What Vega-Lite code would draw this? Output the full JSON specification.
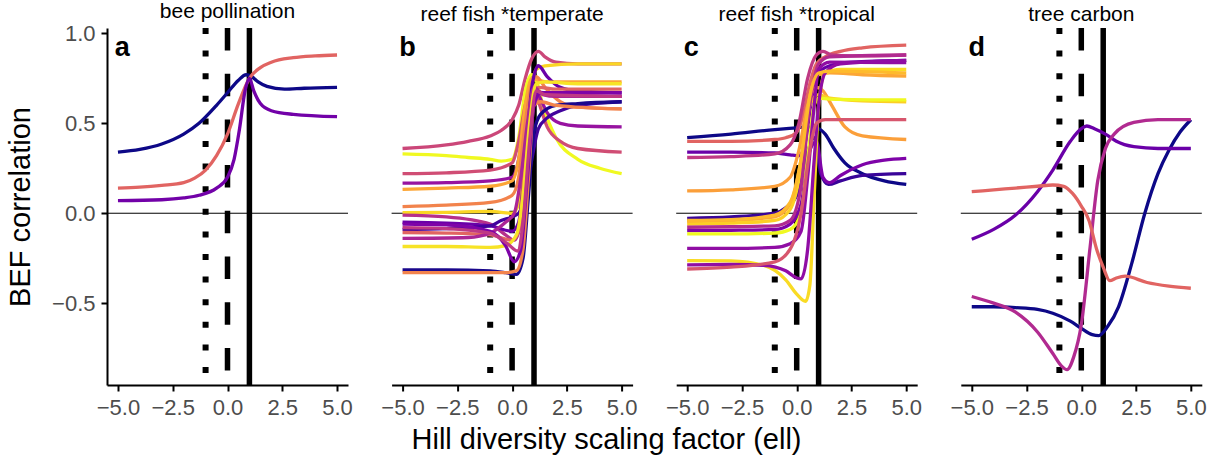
{
"$schema": "https://vega.github.io/schema/vega-lite/v6.json",
"padding": {"left": 6, "top": 0, "right": 5, "bottom": 5},
"background": "white",
"config": {
 "view": {"stroke": null},
 "axis": {"domainColor": "black", "domainWidth": 2, "tickColor": "black", "tickWidth": 2, "tickSize": 6, "labelColor": "#4D4D4D", "labelFont": "Liberation Sans", "labelFontSize": 22, "labelPadding": 6, "grid": false, "titleFont": "Liberation Sans", "titleFontWeight": "normal", "titleColor": "black", "titleFontSize": 29}
},
"title": {"text": "Hill diversity scaling factor (ell)", "orient": "bottom", "anchor": "middle", "fontSize": 29, "fontWeight": "normal", "font": "Liberation Sans", "color": "black", "offset": 8},
"spacing": 27.6,
"datasets": {
"curves": [
{"p":"a","s":"a1","c":0,"x":-5,"y":0.34},{"p":"a","s":"a1","c":0,"x":-4,"y":0.355},{"p":"a","s":"a1","c":0,"x":-3,"y":0.385},{"p":"a","s":"a1","c":0,"x":-2,"y":0.44},{"p":"a","s":"a1","c":0,"x":-1.3,"y":0.5},{"p":"a","s":"a1","c":0,"x":-0.5,"y":0.6},{"p":"a","s":"a1","c":0,"x":0,"y":0.67},{"p":"a","s":"a1","c":0,"x":0.5,"y":0.74},{"p":"a","s":"a1","c":0,"x":0.85,"y":0.77},{"p":"a","s":"a1","c":0,"x":1.1,"y":0.76},{"p":"a","s":"a1","c":0,"x":1.4,"y":0.73},{"p":"a","s":"a1","c":0,"x":1.8,"y":0.705},{"p":"a","s":"a1","c":0,"x":2.6,"y":0.69},{"p":"a","s":"a1","c":0,"x":3.5,"y":0.695},{"p":"a","s":"a1","c":0,"x":5,"y":0.7},
{"p":"a","s":"a2","c":0.6,"x":-5,"y":0.14},{"p":"a","s":"a2","c":0.6,"x":-4,"y":0.145},{"p":"a","s":"a2","c":0.6,"x":-3,"y":0.155},{"p":"a","s":"a2","c":0.6,"x":-2,"y":0.17},{"p":"a","s":"a2","c":0.6,"x":-1.5,"y":0.195},{"p":"a","s":"a2","c":0.6,"x":-1,"y":0.24},{"p":"a","s":"a2","c":0.6,"x":-0.5,"y":0.32},{"p":"a","s":"a2","c":0.6,"x":0,"y":0.44},{"p":"a","s":"a2","c":0.6,"x":0.5,"y":0.61},{"p":"a","s":"a2","c":0.6,"x":1,"y":0.75},{"p":"a","s":"a2","c":0.6,"x":1.5,"y":0.81},{"p":"a","s":"a2","c":0.6,"x":2,"y":0.84},{"p":"a","s":"a2","c":0.6,"x":3,"y":0.865},{"p":"a","s":"a2","c":0.6,"x":4,"y":0.875},{"p":"a","s":"a2","c":0.6,"x":5,"y":0.88},
{"p":"a","s":"a3","c":0.22,"x":-5,"y":0.07},{"p":"a","s":"a3","c":0.22,"x":-3,"y":0.075},{"p":"a","s":"a3","c":0.22,"x":-2,"y":0.085},{"p":"a","s":"a3","c":0.22,"x":-1.3,"y":0.1},{"p":"a","s":"a3","c":0.22,"x":-0.5,"y":0.14},{"p":"a","s":"a3","c":0.22,"x":0,"y":0.2},{"p":"a","s":"a3","c":0.22,"x":0.3,"y":0.3},{"p":"a","s":"a3","c":0.22,"x":0.55,"y":0.47},{"p":"a","s":"a3","c":0.22,"x":0.8,"y":0.68},{"p":"a","s":"a3","c":0.22,"x":1,"y":0.75},{"p":"a","s":"a3","c":0.22,"x":1.2,"y":0.68},{"p":"a","s":"a3","c":0.22,"x":1.5,"y":0.61},{"p":"a","s":"a3","c":0.22,"x":2,"y":0.57},{"p":"a","s":"a3","c":0.22,"x":3,"y":0.55},{"p":"a","s":"a3","c":0.22,"x":5,"y":0.537},

{"p":"b","s":"b1","c":0.5,"x":-5,"y":0.36},{"p":"b","s":"b1","c":0.5,"x":-3,"y":0.38},{"p":"b","s":"b1","c":0.5,"x":-2,"y":0.4},{"p":"b","s":"b1","c":0.5,"x":-1,"y":0.43},{"p":"b","s":"b1","c":0.5,"x":-0.5,"y":0.46},{"p":"b","s":"b1","c":0.5,"x":0,"y":0.52},{"p":"b","s":"b1","c":0.5,"x":0.3,"y":0.6},{"p":"b","s":"b1","c":0.5,"x":0.6,"y":0.75},{"p":"b","s":"b1","c":0.5,"x":0.9,"y":0.86},{"p":"b","s":"b1","c":0.5,"x":1.2,"y":0.9},{"p":"b","s":"b1","c":0.5,"x":1.5,"y":0.87},{"p":"b","s":"b1","c":0.5,"x":2,"y":0.84},{"p":"b","s":"b1","c":0.5,"x":3,"y":0.83},{"p":"b","s":"b1","c":0.5,"x":5,"y":0.83},
{"p":"b","s":"b2","c":1,"x":-5,"y":0.33},{"p":"b","s":"b2","c":1,"x":-3,"y":0.32},{"p":"b","s":"b2","c":1,"x":-2,"y":0.31},{"p":"b","s":"b2","c":1,"x":-1,"y":0.3},{"p":"b","s":"b2","c":1,"x":-0.5,"y":0.29},{"p":"b","s":"b2","c":1,"x":0,"y":0.3},{"p":"b","s":"b2","c":1,"x":0.3,"y":0.42},{"p":"b","s":"b2","c":1,"x":0.6,"y":0.68},{"p":"b","s":"b2","c":1,"x":0.9,"y":0.77},{"p":"b","s":"b2","c":1,"x":1.1,"y":0.74},{"p":"b","s":"b2","c":1,"x":1.4,"y":0.6},{"p":"b","s":"b2","c":1,"x":2,"y":0.42},{"p":"b","s":"b2","c":1,"x":3,"y":0.3},{"p":"b","s":"b2","c":1,"x":4,"y":0.25},{"p":"b","s":"b2","c":1,"x":5,"y":0.22},
{"p":"b","s":"b3","c":0.52,"x":-5,"y":0.22},{"p":"b","s":"b3","c":0.52,"x":-3,"y":0.225},{"p":"b","s":"b3","c":0.52,"x":-1,"y":0.24},{"p":"b","s":"b3","c":0.52,"x":0,"y":0.28},{"p":"b","s":"b3","c":0.52,"x":0.3,"y":0.4},{"p":"b","s":"b3","c":0.52,"x":0.6,"y":0.6},{"p":"b","s":"b3","c":0.52,"x":0.9,"y":0.7},{"p":"b","s":"b3","c":0.52,"x":1.2,"y":0.62},{"p":"b","s":"b3","c":0.52,"x":1.6,"y":0.48},{"p":"b","s":"b3","c":0.52,"x":2.2,"y":0.4},{"p":"b","s":"b3","c":0.52,"x":3,"y":0.36},{"p":"b","s":"b3","c":0.52,"x":5,"y":0.34},
{"p":"b","s":"b4","c":0.32,"x":-5,"y":0.167},{"p":"b","s":"b4","c":0.32,"x":-3,"y":0.17},{"p":"b","s":"b4","c":0.32,"x":-1,"y":0.18},{"p":"b","s":"b4","c":0.32,"x":0,"y":0.2},{"p":"b","s":"b4","c":0.32,"x":0.3,"y":0.3},{"p":"b","s":"b4","c":0.32,"x":0.6,"y":0.55},{"p":"b","s":"b4","c":0.32,"x":0.9,"y":0.72},{"p":"b","s":"b4","c":0.32,"x":1.2,"y":0.66},{"p":"b","s":"b4","c":0.32,"x":1.6,"y":0.56},{"p":"b","s":"b4","c":0.32,"x":2.2,"y":0.5},{"p":"b","s":"b4","c":0.32,"x":3,"y":0.485},{"p":"b","s":"b4","c":0.32,"x":5,"y":0.48},
{"p":"b","s":"b5","c":0.8,"x":-5,"y":0.133},{"p":"b","s":"b5","c":0.8,"x":-3,"y":0.14},{"p":"b","s":"b5","c":0.8,"x":-1,"y":0.15},{"p":"b","s":"b5","c":0.8,"x":0,"y":0.18},{"p":"b","s":"b5","c":0.8,"x":0.3,"y":0.3},{"p":"b","s":"b5","c":0.8,"x":0.6,"y":0.6},{"p":"b","s":"b5","c":0.8,"x":0.9,"y":0.75},{"p":"b","s":"b5","c":0.8,"x":1.2,"y":0.74},{"p":"b","s":"b5","c":0.8,"x":1.6,"y":0.73},{"p":"b","s":"b5","c":0.8,"x":3,"y":0.73},{"p":"b","s":"b5","c":0.8,"x":5,"y":0.73},
{"p":"b","s":"b6","c":0.7,"x":-5,"y":0.037},{"p":"b","s":"b6","c":0.7,"x":-3,"y":0.045},{"p":"b","s":"b6","c":0.7,"x":-1,"y":0.06},{"p":"b","s":"b6","c":0.7,"x":0,"y":0.1},{"p":"b","s":"b6","c":0.7,"x":0.3,"y":0.2},{"p":"b","s":"b6","c":0.7,"x":0.6,"y":0.5},{"p":"b","s":"b6","c":0.7,"x":0.9,"y":0.72},{"p":"b","s":"b6","c":0.7,"x":1.1,"y":0.76},{"p":"b","s":"b6","c":0.7,"x":1.5,"y":0.7},{"p":"b","s":"b6","c":0.7,"x":2.2,"y":0.62},{"p":"b","s":"b6","c":0.7,"x":3,"y":0.59},{"p":"b","s":"b6","c":0.7,"x":5,"y":0.58},
{"p":"b","s":"b7","c":0.92,"x":-5,"y":0.003},{"p":"b","s":"b7","c":0.92,"x":-3,"y":0.005},{"p":"b","s":"b7","c":0.92,"x":-1,"y":0.01},{"p":"b","s":"b7","c":0.92,"x":0,"y":0},{"p":"b","s":"b7","c":0.92,"x":0.3,"y":0.05},{"p":"b","s":"b7","c":0.92,"x":0.6,"y":0.35},{"p":"b","s":"b7","c":0.92,"x":0.9,"y":0.7},{"p":"b","s":"b7","c":0.92,"x":1.1,"y":0.8},{"p":"b","s":"b7","c":0.92,"x":1.5,"y":0.82},{"p":"b","s":"b7","c":0.92,"x":3,"y":0.83},{"p":"b","s":"b7","c":0.92,"x":5,"y":0.83},
{"p":"b","s":"b8","c":0.42,"x":-5,"y":-0.01},{"p":"b","s":"b8","c":0.42,"x":-3,"y":-0.02},{"p":"b","s":"b8","c":0.42,"x":-1,"y":-0.06},{"p":"b","s":"b8","c":0.42,"x":-0.3,"y":-0.12},{"p":"b","s":"b8","c":0.42,"x":0.1,"y":-0.15},{"p":"b","s":"b8","c":0.42,"x":0.4,"y":-0.05},{"p":"b","s":"b8","c":0.42,"x":0.7,"y":0.4},{"p":"b","s":"b8","c":0.42,"x":1,"y":0.68},{"p":"b","s":"b8","c":0.42,"x":1.4,"y":0.67},{"p":"b","s":"b8","c":0.42,"x":2,"y":0.66},{"p":"b","s":"b8","c":0.42,"x":5,"y":0.65},
{"p":"b","s":"b9","c":0.2,"x":-5,"y":-0.05},{"p":"b","s":"b9","c":0.2,"x":-3,"y":-0.055},{"p":"b","s":"b9","c":0.2,"x":-1,"y":-0.07},{"p":"b","s":"b9","c":0.2,"x":0,"y":-0.1},{"p":"b","s":"b9","c":0.2,"x":0.3,"y":-0.05},{"p":"b","s":"b9","c":0.2,"x":0.6,"y":0.3},{"p":"b","s":"b9","c":0.2,"x":0.9,"y":0.7},{"p":"b","s":"b9","c":0.2,"x":1.2,"y":0.82},{"p":"b","s":"b9","c":0.2,"x":1.6,"y":0.76},{"p":"b","s":"b9","c":0.2,"x":2.2,"y":0.7},{"p":"b","s":"b9","c":0.2,"x":3,"y":0.68},{"p":"b","s":"b9","c":0.2,"x":5,"y":0.67},
{"p":"b","s":"b10","c":0.1,"x":-5,"y":-0.09},{"p":"b","s":"b10","c":0.1,"x":-3,"y":-0.085},{"p":"b","s":"b10","c":0.1,"x":-1,"y":-0.07},{"p":"b","s":"b10","c":0.1,"x":-0.5,"y":-0.04},{"p":"b","s":"b10","c":0.1,"x":0,"y":-0.02},{"p":"b","s":"b10","c":0.1,"x":0.3,"y":0},{"p":"b","s":"b10","c":0.1,"x":0.6,"y":0.1},{"p":"b","s":"b10","c":0.1,"x":0.9,"y":0.3},{"p":"b","s":"b10","c":0.1,"x":1.2,"y":0.47},{"p":"b","s":"b10","c":0.1,"x":1.6,"y":0.53},{"p":"b","s":"b10","c":0.1,"x":2.2,"y":0.57},{"p":"b","s":"b10","c":0.1,"x":3,"y":0.6},{"p":"b","s":"b10","c":0.1,"x":5,"y":0.62},
{"p":"b","s":"b11","c":0.6,"x":-5,"y":-0.107},{"p":"b","s":"b11","c":0.6,"x":-3,"y":-0.11},{"p":"b","s":"b11","c":0.6,"x":-1,"y":-0.12},{"p":"b","s":"b11","c":0.6,"x":0,"y":-0.15},{"p":"b","s":"b11","c":0.6,"x":0.3,"y":-0.1},{"p":"b","s":"b11","c":0.6,"x":0.6,"y":0.3},{"p":"b","s":"b11","c":0.6,"x":0.9,"y":0.65},{"p":"b","s":"b11","c":0.6,"x":1.2,"y":0.7},{"p":"b","s":"b11","c":0.6,"x":2,"y":0.69},{"p":"b","s":"b11","c":0.6,"x":5,"y":0.69},
{"p":"b","s":"b12","c":0.38,"x":-5,"y":-0.14},{"p":"b","s":"b12","c":0.38,"x":-2,"y":-0.135},{"p":"b","s":"b12","c":0.38,"x":-1,"y":-0.11},{"p":"b","s":"b12","c":0.38,"x":-0.3,"y":-0.05},{"p":"b","s":"b12","c":0.38,"x":0.1,"y":0},{"p":"b","s":"b12","c":0.38,"x":0.4,"y":0.2},{"p":"b","s":"b12","c":0.38,"x":0.7,"y":0.5},{"p":"b","s":"b12","c":0.38,"x":1,"y":0.7},{"p":"b","s":"b12","c":0.38,"x":1.4,"y":0.66},{"p":"b","s":"b12","c":0.38,"x":2,"y":0.65},{"p":"b","s":"b12","c":0.38,"x":5,"y":0.65},
{"p":"b","s":"b13","c":0.95,"x":-5,"y":-0.185},{"p":"b","s":"b13","c":0.95,"x":-3,"y":-0.185},{"p":"b","s":"b13","c":0.95,"x":-1,"y":-0.19},{"p":"b","s":"b13","c":0.95,"x":-0.3,"y":-0.18},{"p":"b","s":"b13","c":0.95,"x":0.2,"y":-0.12},{"p":"b","s":"b13","c":0.95,"x":0.5,"y":0.1},{"p":"b","s":"b13","c":0.95,"x":0.8,"y":0.5},{"p":"b","s":"b13","c":0.95,"x":1.1,"y":0.72},{"p":"b","s":"b13","c":0.95,"x":1.5,"y":0.73},{"p":"b","s":"b13","c":0.95,"x":3,"y":0.72},{"p":"b","s":"b13","c":0.95,"x":5,"y":0.72},
{"p":"b","s":"b14","c":0.02,"x":-5,"y":-0.315},{"p":"b","s":"b14","c":0.02,"x":-3,"y":-0.315},{"p":"b","s":"b14","c":0.02,"x":-1,"y":-0.32},{"p":"b","s":"b14","c":0.02,"x":-0.3,"y":-0.33},{"p":"b","s":"b14","c":0.02,"x":0.2,"y":-0.34},{"p":"b","s":"b14","c":0.02,"x":0.5,"y":-0.25},{"p":"b","s":"b14","c":0.02,"x":0.75,"y":0.1},{"p":"b","s":"b14","c":0.02,"x":1,"y":0.45},{"p":"b","s":"b14","c":0.02,"x":1.3,"y":0.55},{"p":"b","s":"b14","c":0.02,"x":2,"y":0.6},{"p":"b","s":"b14","c":0.02,"x":3,"y":0.61},{"p":"b","s":"b14","c":0.02,"x":5,"y":0.62},
{"p":"b","s":"b15","c":0.7,"x":-5,"y":-0.33},{"p":"b","s":"b15","c":0.7,"x":-3,"y":-0.33},{"p":"b","s":"b15","c":0.7,"x":-1,"y":-0.33},{"p":"b","s":"b15","c":0.7,"x":-0.3,"y":-0.33},{"p":"b","s":"b15","c":0.7,"x":0.2,"y":-0.32},{"p":"b","s":"b15","c":0.7,"x":0.5,"y":-0.2},{"p":"b","s":"b15","c":0.7,"x":0.75,"y":0.2},{"p":"b","s":"b15","c":0.7,"x":1,"y":0.6},{"p":"b","s":"b15","c":0.7,"x":1.3,"y":0.62},{"p":"b","s":"b15","c":0.7,"x":2,"y":0.6},{"p":"b","s":"b15","c":0.7,"x":5,"y":0.58},
{"p":"b","s":"b16","c":0.25,"x":-5,"y":-0.06},{"p":"b","s":"b16","c":0.25,"x":-3,"y":-0.065},{"p":"b","s":"b16","c":0.25,"x":-1,"y":-0.1},{"p":"b","s":"b16","c":0.25,"x":-0.3,"y":-0.18},{"p":"b","s":"b16","c":0.25,"x":0.1,"y":-0.27},{"p":"b","s":"b16","c":0.25,"x":0.4,"y":-0.2},{"p":"b","s":"b16","c":0.25,"x":0.7,"y":0.2},{"p":"b","s":"b16","c":0.25,"x":1,"y":0.6},{"p":"b","s":"b16","c":0.25,"x":1.3,"y":0.67},{"p":"b","s":"b16","c":0.25,"x":2,"y":0.67},{"p":"b","s":"b16","c":0.25,"x":5,"y":0.67},
{"p":"b","s":"b17","c":0.45,"x":-5,"y":-0.08},{"p":"b","s":"b17","c":0.45,"x":-3,"y":-0.085},{"p":"b","s":"b17","c":0.45,"x":-1,"y":-0.11},{"p":"b","s":"b17","c":0.45,"x":-0.2,"y":-0.17},{"p":"b","s":"b17","c":0.45,"x":0.25,"y":-0.21},{"p":"b","s":"b17","c":0.45,"x":0.5,"y":-0.05},{"p":"b","s":"b17","c":0.45,"x":0.8,"y":0.4},{"p":"b","s":"b17","c":0.45,"x":1.1,"y":0.68},{"p":"b","s":"b17","c":0.45,"x":1.5,"y":0.66},{"p":"b","s":"b17","c":0.45,"x":5,"y":0.65},

{"p":"c","s":"c1","c":0,"x":-5,"y":0.42},{"p":"c","s":"c1","c":0,"x":-3,"y":0.44},{"p":"c","s":"c1","c":0,"x":-1,"y":0.465},{"p":"c","s":"c1","c":0,"x":0,"y":0.475},{"p":"c","s":"c1","c":0,"x":0.5,"y":0.48},{"p":"c","s":"c1","c":0,"x":1,"y":0.47},{"p":"c","s":"c1","c":0,"x":1.3,"y":0.44},{"p":"c","s":"c1","c":0,"x":1.7,"y":0.36},{"p":"c","s":"c1","c":0,"x":2.2,"y":0.28},{"p":"c","s":"c1","c":0,"x":3,"y":0.22},{"p":"c","s":"c1","c":0,"x":4,"y":0.18},{"p":"c","s":"c1","c":0,"x":5,"y":0.16},
{"p":"c","s":"c2","c":0.6,"x":-5,"y":0.4},{"p":"c","s":"c2","c":0.6,"x":-3,"y":0.4},{"p":"c","s":"c2","c":0.6,"x":-1,"y":0.41},{"p":"c","s":"c2","c":0.6,"x":-0.5,"y":0.42},{"p":"c","s":"c2","c":0.6,"x":0,"y":0.45},{"p":"c","s":"c2","c":0.6,"x":0.3,"y":0.55},{"p":"c","s":"c2","c":0.6,"x":0.6,"y":0.72},{"p":"c","s":"c2","c":0.6,"x":0.9,"y":0.83},{"p":"c","s":"c2","c":0.6,"x":1.3,"y":0.87},{"p":"c","s":"c2","c":0.6,"x":2,"y":0.9},{"p":"c","s":"c2","c":0.6,"x":3,"y":0.92},{"p":"c","s":"c2","c":0.6,"x":5,"y":0.935},
{"p":"c","s":"c3","c":0.2,"x":-5,"y":0.34},{"p":"c","s":"c3","c":0.2,"x":-3,"y":0.34},{"p":"c","s":"c3","c":0.2,"x":-1,"y":0.335},{"p":"c","s":"c3","c":0.2,"x":-0.3,"y":0.325},{"p":"c","s":"c3","c":0.2,"x":0.1,"y":0.32},{"p":"c","s":"c3","c":0.2,"x":0.4,"y":0.4},{"p":"c","s":"c3","c":0.2,"x":0.7,"y":0.65},{"p":"c","s":"c3","c":0.2,"x":1,"y":0.78},{"p":"c","s":"c3","c":0.2,"x":1.5,"y":0.82},{"p":"c","s":"c3","c":0.2,"x":2.5,"y":0.84},{"p":"c","s":"c3","c":0.2,"x":5,"y":0.85},
{"p":"c","s":"c4","c":0.45,"x":-5,"y":0.31},{"p":"c","s":"c4","c":0.45,"x":-3,"y":0.315},{"p":"c","s":"c4","c":0.45,"x":-1,"y":0.33},{"p":"c","s":"c4","c":0.45,"x":-0.3,"y":0.38},{"p":"c","s":"c4","c":0.45,"x":0.1,"y":0.5},{"p":"c","s":"c4","c":0.45,"x":0.5,"y":0.75},{"p":"c","s":"c4","c":0.45,"x":0.9,"y":0.88},{"p":"c","s":"c4","c":0.45,"x":1.2,"y":0.9},{"p":"c","s":"c4","c":0.45,"x":1.6,"y":0.88},{"p":"c","s":"c4","c":0.45,"x":2.5,"y":0.875},{"p":"c","s":"c4","c":0.45,"x":5,"y":0.88},
{"p":"c","s":"c5","c":0.78,"x":-5,"y":0.124},{"p":"c","s":"c5","c":0.78,"x":-3,"y":0.13},{"p":"c","s":"c5","c":0.78,"x":-1,"y":0.15},{"p":"c","s":"c5","c":0.78,"x":-0.3,"y":0.2},{"p":"c","s":"c5","c":0.78,"x":0.1,"y":0.35},{"p":"c","s":"c5","c":0.78,"x":0.5,"y":0.6},{"p":"c","s":"c5","c":0.78,"x":0.9,"y":0.7},{"p":"c","s":"c5","c":0.78,"x":1.2,"y":0.68},{"p":"c","s":"c5","c":0.78,"x":1.6,"y":0.6},{"p":"c","s":"c5","c":0.78,"x":2.2,"y":0.48},{"p":"c","s":"c5","c":0.78,"x":3,"y":0.43},{"p":"c","s":"c5","c":0.78,"x":5,"y":0.41},
{"p":"c","s":"c6","c":0.08,"x":-5,"y":-0.028},{"p":"c","s":"c6","c":0.08,"x":-3,"y":-0.02},{"p":"c","s":"c6","c":0.08,"x":-1,"y":0},{"p":"c","s":"c6","c":0.08,"x":-0.5,"y":0.03},{"p":"c","s":"c6","c":0.08,"x":0,"y":0.1},{"p":"c","s":"c6","c":0.08,"x":0.4,"y":0.3},{"p":"c","s":"c6","c":0.08,"x":0.8,"y":0.42},{"p":"c","s":"c6","c":0.08,"x":1.1,"y":0.22},{"p":"c","s":"c6","c":0.08,"x":1.45,"y":0.16},{"p":"c","s":"c6","c":0.08,"x":2,"y":0.18},{"p":"c","s":"c6","c":0.08,"x":3,"y":0.21},{"p":"c","s":"c6","c":0.08,"x":5,"y":0.22},
{"p":"c","s":"c7","c":0.25,"x":-5,"y":-0.097},{"p":"c","s":"c7","c":0.25,"x":-3,"y":-0.095},{"p":"c","s":"c7","c":0.25,"x":-1,"y":-0.09},{"p":"c","s":"c7","c":0.25,"x":-0.3,"y":-0.06},{"p":"c","s":"c7","c":0.25,"x":0.2,"y":0.05},{"p":"c","s":"c7","c":0.25,"x":0.6,"y":0.35},{"p":"c","s":"c7","c":0.25,"x":0.9,"y":0.4},{"p":"c","s":"c7","c":0.25,"x":1.2,"y":0.2},{"p":"c","s":"c7","c":0.25,"x":1.5,"y":0.17},{"p":"c","s":"c7","c":0.25,"x":2,"y":0.21},{"p":"c","s":"c7","c":0.25,"x":3,"y":0.27},{"p":"c","s":"c7","c":0.25,"x":4,"y":0.295},{"p":"c","s":"c7","c":0.25,"x":5,"y":0.305},
{"p":"c","s":"c8","c":0.8,"x":-5,"y":-0.047},{"p":"c","s":"c8","c":0.8,"x":-3,"y":-0.04},{"p":"c","s":"c8","c":0.8,"x":-1,"y":-0.02},{"p":"c","s":"c8","c":0.8,"x":-0.3,"y":0.05},{"p":"c","s":"c8","c":0.8,"x":0.2,"y":0.3},{"p":"c","s":"c8","c":0.8,"x":0.6,"y":0.65},{"p":"c","s":"c8","c":0.8,"x":1,"y":0.77},{"p":"c","s":"c8","c":0.8,"x":1.5,"y":0.78},{"p":"c","s":"c8","c":0.8,"x":3,"y":0.77},{"p":"c","s":"c8","c":0.8,"x":5,"y":0.763},
{"p":"c","s":"c9","c":0.9,"x":-5,"y":-0.06},{"p":"c","s":"c9","c":0.9,"x":-3,"y":-0.055},{"p":"c","s":"c9","c":0.9,"x":-1,"y":-0.04},{"p":"c","s":"c9","c":0.9,"x":-0.3,"y":0.02},{"p":"c","s":"c9","c":0.9,"x":0.2,"y":0.25},{"p":"c","s":"c9","c":0.9,"x":0.6,"y":0.6},{"p":"c","s":"c9","c":0.9,"x":1,"y":0.66},{"p":"c","s":"c9","c":0.9,"x":1.5,"y":0.64},{"p":"c","s":"c9","c":0.9,"x":3,"y":0.625},{"p":"c","s":"c9","c":0.9,"x":5,"y":0.62},
{"p":"c","s":"c10","c":0.4,"x":-5,"y":-0.078},{"p":"c","s":"c10","c":0.4,"x":-3,"y":-0.075},{"p":"c","s":"c10","c":0.4,"x":-1,"y":-0.07},{"p":"c","s":"c10","c":0.4,"x":-0.3,"y":-0.04},{"p":"c","s":"c10","c":0.4,"x":0.2,"y":0.15},{"p":"c","s":"c10","c":0.4,"x":0.6,"y":0.6},{"p":"c","s":"c10","c":0.4,"x":1,"y":0.83},{"p":"c","s":"c10","c":0.4,"x":1.5,"y":0.87},{"p":"c","s":"c10","c":0.4,"x":5,"y":0.88},
{"p":"c","s":"c11","c":1,"x":-5,"y":-0.115},{"p":"c","s":"c11","c":1,"x":-3,"y":-0.115},{"p":"c","s":"c11","c":1,"x":-1,"y":-0.11},{"p":"c","s":"c11","c":1,"x":-0.3,"y":-0.09},{"p":"c","s":"c11","c":1,"x":0.2,"y":0},{"p":"c","s":"c11","c":1,"x":0.5,"y":0.3},{"p":"c","s":"c11","c":1,"x":0.8,"y":0.6},{"p":"c","s":"c11","c":1,"x":1,"y":0.64},{"p":"c","s":"c11","c":1,"x":1.5,"y":0.635},{"p":"c","s":"c11","c":1,"x":5,"y":0.63},
{"p":"c","s":"c12","c":0.3,"x":-5,"y":-0.195},{"p":"c","s":"c12","c":0.3,"x":-3,"y":-0.195},{"p":"c","s":"c12","c":0.3,"x":-1,"y":-0.19},{"p":"c","s":"c12","c":0.3,"x":-0.3,"y":-0.17},{"p":"c","s":"c12","c":0.3,"x":0.2,"y":-0.1},{"p":"c","s":"c12","c":0.3,"x":0.5,"y":0.2},{"p":"c","s":"c12","c":0.3,"x":0.8,"y":0.6},{"p":"c","s":"c12","c":0.3,"x":1,"y":0.8},{"p":"c","s":"c12","c":0.3,"x":1.5,"y":0.84},{"p":"c","s":"c12","c":0.3,"x":5,"y":0.837},
{"p":"c","s":"c13","c":0.93,"x":-5,"y":-0.263},{"p":"c","s":"c13","c":0.93,"x":-3,"y":-0.265},{"p":"c","s":"c13","c":0.93,"x":-1.5,"y":-0.29},{"p":"c","s":"c13","c":0.93,"x":-0.5,"y":-0.37},{"p":"c","s":"c13","c":0.93,"x":0,"y":-0.45},{"p":"c","s":"c13","c":0.93,"x":0.4,"y":-0.49},{"p":"c","s":"c13","c":0.93,"x":0.6,"y":-0.4},{"p":"c","s":"c13","c":0.93,"x":0.8,"y":0.1},{"p":"c","s":"c13","c":0.93,"x":1,"y":0.6},{"p":"c","s":"c13","c":0.93,"x":1.3,"y":0.78},{"p":"c","s":"c13","c":0.93,"x":2,"y":0.8},{"p":"c","s":"c13","c":0.93,"x":5,"y":0.8},
{"p":"c","s":"c14","c":0.3,"x":-5,"y":-0.287},{"p":"c","s":"c14","c":0.3,"x":-3,"y":-0.285},{"p":"c","s":"c14","c":0.3,"x":-1.5,"y":-0.29},{"p":"c","s":"c14","c":0.3,"x":-0.5,"y":-0.32},{"p":"c","s":"c14","c":0.3,"x":0,"y":-0.36},{"p":"c","s":"c14","c":0.3,"x":0.2,"y":-0.365},{"p":"c","s":"c14","c":0.3,"x":0.5,"y":-0.2},{"p":"c","s":"c14","c":0.3,"x":0.8,"y":0.3},{"p":"c","s":"c14","c":0.3,"x":1,"y":0.6},{"p":"c","s":"c14","c":0.3,"x":1.3,"y":0.78},{"p":"c","s":"c14","c":0.3,"x":2,"y":0.83},{"p":"c","s":"c14","c":0.3,"x":5,"y":0.85},
{"p":"c","s":"c15","c":0.55,"x":-5,"y":-0.31},{"p":"c","s":"c15","c":0.55,"x":-3,"y":-0.3},{"p":"c","s":"c15","c":0.55,"x":-1,"y":-0.27},{"p":"c","s":"c15","c":0.55,"x":-0.3,"y":-0.2},{"p":"c","s":"c15","c":0.55,"x":0.2,"y":0},{"p":"c","s":"c15","c":0.55,"x":0.6,"y":0.35},{"p":"c","s":"c15","c":0.55,"x":0.9,"y":0.5},{"p":"c","s":"c15","c":0.55,"x":1.3,"y":0.52},{"p":"c","s":"c15","c":0.55,"x":2,"y":0.52},{"p":"c","s":"c15","c":0.55,"x":5,"y":0.52},
{"p":"c","s":"c16","c":0.85,"x":-5,"y":-0.04},{"p":"c","s":"c16","c":0.85,"x":-3,"y":-0.035},{"p":"c","s":"c16","c":0.85,"x":-1,"y":-0.01},{"p":"c","s":"c16","c":0.85,"x":-0.3,"y":0.06},{"p":"c","s":"c16","c":0.85,"x":0.2,"y":0.3},{"p":"c","s":"c16","c":0.85,"x":0.6,"y":0.65},{"p":"c","s":"c16","c":0.85,"x":1,"y":0.78},{"p":"c","s":"c16","c":0.85,"x":1.5,"y":0.79},{"p":"c","s":"c16","c":0.85,"x":5,"y":0.78},

{"p":"d","s":"d1","c":0,"x":-5,"y":-0.52},{"p":"d","s":"d1","c":0,"x":-4,"y":-0.52},{"p":"d","s":"d1","c":0,"x":-3,"y":-0.525},{"p":"d","s":"d1","c":0,"x":-2,"y":-0.535},{"p":"d","s":"d1","c":0,"x":-1.3,"y":-0.556},{"p":"d","s":"d1","c":0,"x":-0.5,"y":-0.6},{"p":"d","s":"d1","c":0,"x":0,"y":-0.64},{"p":"d","s":"d1","c":0,"x":0.5,"y":-0.675},{"p":"d","s":"d1","c":0,"x":0.8,"y":-0.68},{"p":"d","s":"d1","c":0,"x":1.2,"y":-0.63},{"p":"d","s":"d1","c":0,"x":1.7,"y":-0.52},{"p":"d","s":"d1","c":0,"x":2.3,"y":-0.28},{"p":"d","s":"d1","c":0,"x":2.9,"y":0},{"p":"d","s":"d1","c":0,"x":3.5,"y":0.22},{"p":"d","s":"d1","c":0,"x":4,"y":0.35},{"p":"d","s":"d1","c":0,"x":4.5,"y":0.45},{"p":"d","s":"d1","c":0,"x":5,"y":0.52},
{"p":"d","s":"d2","c":0.2,"x":-5,"y":-0.145},{"p":"d","s":"d2","c":0.2,"x":-4,"y":-0.09},{"p":"d","s":"d2","c":0.2,"x":-3,"y":-0.01},{"p":"d","s":"d2","c":0.2,"x":-2,"y":0.12},{"p":"d","s":"d2","c":0.2,"x":-1.3,"y":0.24},{"p":"d","s":"d2","c":0.2,"x":-0.5,"y":0.4},{"p":"d","s":"d2","c":0.2,"x":0,"y":0.47},{"p":"d","s":"d2","c":0.2,"x":0.25,"y":0.485},{"p":"d","s":"d2","c":0.2,"x":0.6,"y":0.47},{"p":"d","s":"d2","c":0.2,"x":1.1,"y":0.44},{"p":"d","s":"d2","c":0.2,"x":1.6,"y":0.4},{"p":"d","s":"d2","c":0.2,"x":2.4,"y":0.37},{"p":"d","s":"d2","c":0.2,"x":3.5,"y":0.36},{"p":"d","s":"d2","c":0.2,"x":5,"y":0.36},
{"p":"d","s":"d3","c":0.4,"x":-5,"y":-0.463},{"p":"d","s":"d3","c":0.4,"x":-4,"y":-0.5},{"p":"d","s":"d3","c":0.4,"x":-3,"y":-0.55},{"p":"d","s":"d3","c":0.4,"x":-2,"y":-0.66},{"p":"d","s":"d3","c":0.4,"x":-1.3,"y":-0.78},{"p":"d","s":"d3","c":0.4,"x":-0.9,"y":-0.85},{"p":"d","s":"d3","c":0.4,"x":-0.65,"y":-0.87},{"p":"d","s":"d3","c":0.4,"x":-0.35,"y":-0.8},{"p":"d","s":"d3","c":0.4,"x":0,"y":-0.62},{"p":"d","s":"d3","c":0.4,"x":0.4,"y":-0.19},{"p":"d","s":"d3","c":0.4,"x":0.75,"y":0.18},{"p":"d","s":"d3","c":0.4,"x":1.1,"y":0.36},{"p":"d","s":"d3","c":0.4,"x":1.5,"y":0.44},{"p":"d","s":"d3","c":0.4,"x":2.4,"y":0.505},{"p":"d","s":"d3","c":0.4,"x":3.5,"y":0.52},{"p":"d","s":"d3","c":0.4,"x":5,"y":0.52},
{"p":"d","s":"d4","c":0.6,"x":-5,"y":0.12},{"p":"d","s":"d4","c":0.6,"x":-4,"y":0.13},{"p":"d","s":"d4","c":0.6,"x":-3,"y":0.14},{"p":"d","s":"d4","c":0.6,"x":-2,"y":0.15},{"p":"d","s":"d4","c":0.6,"x":-1.3,"y":0.157},{"p":"d","s":"d4","c":0.6,"x":-0.8,"y":0.15},{"p":"d","s":"d4","c":0.6,"x":-0.4,"y":0.11},{"p":"d","s":"d4","c":0.6,"x":0,"y":0.04},{"p":"d","s":"d4","c":0.6,"x":0.35,"y":-0.04},{"p":"d","s":"d4","c":0.6,"x":0.7,"y":-0.2},{"p":"d","s":"d4","c":0.6,"x":1,"y":-0.3},{"p":"d","s":"d4","c":0.6,"x":1.3,"y":-0.375},{"p":"d","s":"d4","c":0.6,"x":1.6,"y":-0.36},{"p":"d","s":"d4","c":0.6,"x":2,"y":-0.35},{"p":"d","s":"d4","c":0.6,"x":3,"y":-0.385},{"p":"d","s":"d4","c":0.6,"x":4,"y":-0.405},{"p":"d","s":"d4","c":0.6,"x":5,"y":-0.417}
]
},
"hconcat": [
{"width": 241, "height": 357,
 "title": {"text": "bee pollination", "fontSize": 21, "font": "Liberation Sans", "fontWeight": "normal", "color": "black", "offset": 0.5, "anchor": "middle"},
 "layer": [
  {"data": {"values": [{"k": 0}]}, "mark": {"type": "rule", "color": "black", "strokeWidth": 1}, "encoding": {"y": {"datum": 0, "type": "quantitative", "axis": {"values": [-0.5, 0, 0.5, 1], "format": ".1f", "title": "BEF correlation", "titlePadding": 15.7}}}},
  {"data": {"values": [{"k": 0}]}, "mark": {"type": "rule", "color": "black", "strokeWidth": 6, "strokeDash": [6, 16.6]}, "encoding": {"x": {"datum": -1, "type": "quantitative", "axis": {"values": [-5, -2.5, 0, 2.5, 5], "format": ".1f", "title": null}}}},
  {"data": {"values": [{"k": 0}]}, "mark": {"type": "rule", "color": "black", "strokeWidth": 5.5, "strokeDash": [22.5, 23.2]}, "encoding": {"x": {"datum": 0, "type": "quantitative", "axis": {"values": [-5, -2.5, 0, 2.5, 5], "format": ".1f", "title": null}}}},
  {"data": {"values": [{"k": 0}]}, "mark": {"type": "rule", "color": "black", "strokeWidth": 5.5}, "encoding": {"x": {"datum": 1, "type": "quantitative", "axis": {"values": [-5, -2.5, 0, 2.5, 5], "format": ".1f", "title": null}}}},
  {"data": {"name": "curves"}, "transform": [{"filter": "datum.p == 'a'"}],
   "mark": {"type": "line", "strokeWidth": 3.3, "interpolate": "monotone"},
   "encoding": {
    "x": {"field": "x", "type": "quantitative", "scale": {"domain": [-5.5, 5.5], "nice": false, "zero": false}, "axis": {"values": [-5, -2.5, 0, 2.5, 5], "format": ".1f", "title": null}},
    "y": {"field": "y", "type": "quantitative", "scale": {"domain": [-0.955, 1.03], "nice": false, "zero": false}, "axis": {"values": [-0.5, 0, 0.5, 1], "format": ".1f", "title": "BEF correlation", "titlePadding": 15.7}},
    "color": {"field": "c", "type": "quantitative", "scale": {"scheme": "plasma", "domain": [0, 1]}, "legend": null},
    "detail": {"field": "s", "type": "nominal"}}},
  {"data": {"values": [{"k": 0}]}, "mark": {"type": "text", "text": "a", "font": "Liberation Sans", "fontWeight": "bold", "fontSize": 27, "align": "left", "baseline": "middle", "color": "black"}, "encoding": {"x": {"datum": -5.15, "type": "quantitative", "axis": {"values": [-5, -2.5, 0, 2.5, 5], "format": ".1f", "title": null}}, "y": {"datum": 0.92, "type": "quantitative", "axis": {"values": [-0.5, 0, 0.5, 1], "format": ".1f", "title": "BEF correlation", "titlePadding": 15.7}}}}
 ]},
{"width": 241, "height": 357,
 "title": {"text": "reef fish *temperate", "fontSize": 21, "font": "Liberation Sans", "fontWeight": "normal", "color": "black", "offset": 0.5, "anchor": "middle"},
 "layer": [
  {"data": {"values": [{"k": 0}]}, "mark": {"type": "rule", "color": "black", "strokeWidth": 1}, "encoding": {"y": {"datum": 0, "type": "quantitative", "axis": null}}},
  {"data": {"values": [{"k": 0}]}, "mark": {"type": "rule", "color": "black", "strokeWidth": 6, "strokeDash": [6, 16.6]}, "encoding": {"x": {"datum": -1, "type": "quantitative", "axis": {"values": [-5, -2.5, 0, 2.5, 5], "format": ".1f", "title": null}}}},
  {"data": {"values": [{"k": 0}]}, "mark": {"type": "rule", "color": "black", "strokeWidth": 5.5, "strokeDash": [22.5, 23.2]}, "encoding": {"x": {"datum": 0, "type": "quantitative", "axis": {"values": [-5, -2.5, 0, 2.5, 5], "format": ".1f", "title": null}}}},
  {"data": {"values": [{"k": 0}]}, "mark": {"type": "rule", "color": "black", "strokeWidth": 5.5}, "encoding": {"x": {"datum": 1, "type": "quantitative", "axis": {"values": [-5, -2.5, 0, 2.5, 5], "format": ".1f", "title": null}}}},
  {"data": {"name": "curves"}, "transform": [{"filter": "datum.p == 'b'"}],
   "mark": {"type": "line", "strokeWidth": 3.3, "interpolate": "monotone"},
   "encoding": {
    "x": {"field": "x", "type": "quantitative", "scale": {"domain": [-5.5, 5.5], "nice": false, "zero": false}, "axis": {"values": [-5, -2.5, 0, 2.5, 5], "format": ".1f", "title": null}},
    "y": {"field": "y", "type": "quantitative", "scale": {"domain": [-0.955, 1.03], "nice": false, "zero": false}, "axis": null},
    "color": {"field": "c", "type": "quantitative", "scale": {"scheme": "plasma", "domain": [0, 1]}, "legend": null},
    "detail": {"field": "s", "type": "nominal"}}},
  {"data": {"values": [{"k": 0}]}, "mark": {"type": "text", "text": "b", "font": "Liberation Sans", "fontWeight": "bold", "fontSize": 27, "align": "left", "baseline": "middle", "color": "black"}, "encoding": {"x": {"datum": -5.15, "type": "quantitative", "axis": {"values": [-5, -2.5, 0, 2.5, 5], "format": ".1f", "title": null}}, "y": {"datum": 0.92, "type": "quantitative", "axis": null}}}
 ]},
{"width": 241, "height": 357,
 "title": {"text": "reef fish *tropical", "fontSize": 21, "font": "Liberation Sans", "fontWeight": "normal", "color": "black", "offset": 0.5, "anchor": "middle"},
 "layer": [
  {"data": {"values": [{"k": 0}]}, "mark": {"type": "rule", "color": "black", "strokeWidth": 1}, "encoding": {"y": {"datum": 0, "type": "quantitative", "axis": null}}},
  {"data": {"values": [{"k": 0}]}, "mark": {"type": "rule", "color": "black", "strokeWidth": 6, "strokeDash": [6, 16.6]}, "encoding": {"x": {"datum": -1, "type": "quantitative", "axis": {"values": [-5, -2.5, 0, 2.5, 5], "format": ".1f", "title": null}}}},
  {"data": {"values": [{"k": 0}]}, "mark": {"type": "rule", "color": "black", "strokeWidth": 5.5, "strokeDash": [22.5, 23.2]}, "encoding": {"x": {"datum": 0, "type": "quantitative", "axis": {"values": [-5, -2.5, 0, 2.5, 5], "format": ".1f", "title": null}}}},
  {"data": {"values": [{"k": 0}]}, "mark": {"type": "rule", "color": "black", "strokeWidth": 5.5}, "encoding": {"x": {"datum": 1, "type": "quantitative", "axis": {"values": [-5, -2.5, 0, 2.5, 5], "format": ".1f", "title": null}}}},
  {"data": {"name": "curves"}, "transform": [{"filter": "datum.p == 'c'"}],
   "mark": {"type": "line", "strokeWidth": 3.3, "interpolate": "monotone"},
   "encoding": {
    "x": {"field": "x", "type": "quantitative", "scale": {"domain": [-5.5, 5.5], "nice": false, "zero": false}, "axis": {"values": [-5, -2.5, 0, 2.5, 5], "format": ".1f", "title": null}},
    "y": {"field": "y", "type": "quantitative", "scale": {"domain": [-0.955, 1.03], "nice": false, "zero": false}, "axis": null},
    "color": {"field": "c", "type": "quantitative", "scale": {"scheme": "plasma", "domain": [0, 1]}, "legend": null},
    "detail": {"field": "s", "type": "nominal"}}},
  {"data": {"values": [{"k": 0}]}, "mark": {"type": "text", "text": "c", "font": "Liberation Sans", "fontWeight": "bold", "fontSize": 27, "align": "left", "baseline": "middle", "color": "black"}, "encoding": {"x": {"datum": -5.15, "type": "quantitative", "axis": {"values": [-5, -2.5, 0, 2.5, 5], "format": ".1f", "title": null}}, "y": {"datum": 0.92, "type": "quantitative", "axis": null}}}
 ]},
{"width": 241, "height": 357,
 "title": {"text": "tree carbon", "fontSize": 21, "font": "Liberation Sans", "fontWeight": "normal", "color": "black", "offset": 0.5, "anchor": "middle"},
 "layer": [
  {"data": {"values": [{"k": 0}]}, "mark": {"type": "rule", "color": "black", "strokeWidth": 1}, "encoding": {"y": {"datum": 0, "type": "quantitative", "axis": null}}},
  {"data": {"values": [{"k": 0}]}, "mark": {"type": "rule", "color": "black", "strokeWidth": 6, "strokeDash": [6, 16.6]}, "encoding": {"x": {"datum": -1, "type": "quantitative", "axis": {"values": [-5, -2.5, 0, 2.5, 5], "format": ".1f", "title": null}}}},
  {"data": {"values": [{"k": 0}]}, "mark": {"type": "rule", "color": "black", "strokeWidth": 5.5, "strokeDash": [22.5, 23.2]}, "encoding": {"x": {"datum": 0, "type": "quantitative", "axis": {"values": [-5, -2.5, 0, 2.5, 5], "format": ".1f", "title": null}}}},
  {"data": {"values": [{"k": 0}]}, "mark": {"type": "rule", "color": "black", "strokeWidth": 5.5}, "encoding": {"x": {"datum": 1, "type": "quantitative", "axis": {"values": [-5, -2.5, 0, 2.5, 5], "format": ".1f", "title": null}}}},
  {"data": {"name": "curves"}, "transform": [{"filter": "datum.p == 'd'"}],
   "mark": {"type": "line", "strokeWidth": 3.3, "interpolate": "monotone"},
   "encoding": {
    "x": {"field": "x", "type": "quantitative", "scale": {"domain": [-5.5, 5.5], "nice": false, "zero": false}, "axis": {"values": [-5, -2.5, 0, 2.5, 5], "format": ".1f", "title": null}},
    "y": {"field": "y", "type": "quantitative", "scale": {"domain": [-0.955, 1.03], "nice": false, "zero": false}, "axis": null},
    "color": {"field": "c", "type": "quantitative", "scale": {"scheme": "plasma", "domain": [0, 1]}, "legend": null},
    "detail": {"field": "s", "type": "nominal"}}},
  {"data": {"values": [{"k": 0}]}, "mark": {"type": "text", "text": "d", "font": "Liberation Sans", "fontWeight": "bold", "fontSize": 27, "align": "left", "baseline": "middle", "color": "black"}, "encoding": {"x": {"datum": -5.15, "type": "quantitative", "axis": {"values": [-5, -2.5, 0, 2.5, 5], "format": ".1f", "title": null}}, "y": {"datum": 0.92, "type": "quantitative", "axis": null}}}
 ]}
]
}
